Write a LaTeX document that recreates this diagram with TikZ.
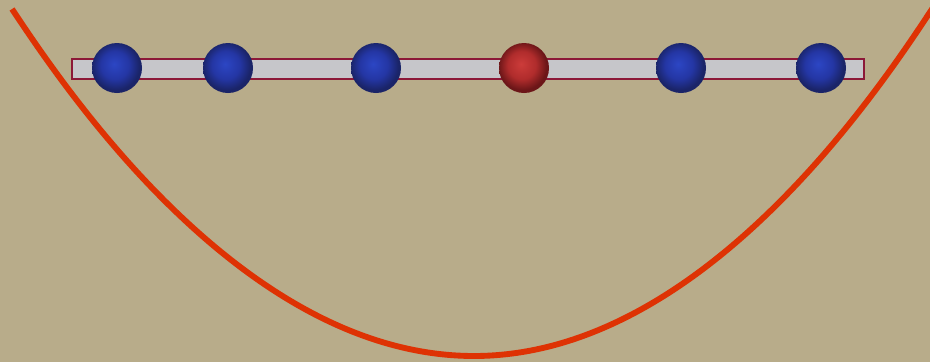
\documentclass[tikz,border=0pt]{standalone}
\usetikzlibrary{positioning}
\definecolor{bgtan}{RGB}{184,172,138}
\definecolor{potred}{RGB}{222,50,4}
\definecolor{railgray}{RGB}{198,198,202}
\definecolor{raildraw}{RGB}{140,24,56}
\definecolor{bluehi}{RGB}{44,70,196}
\definecolor{bluemid}{RGB}{36,54,164}
\definecolor{blueedge}{RGB}{26,36,104}
\definecolor{redhi}{RGB}{204,60,58}
\definecolor{redmid}{RGB}{176,44,44}
\definecolor{rededge}{RGB}{108,22,24}
\pgfdeclareradialshading{blueball}{\pgfpoint{-3bp}{4bp}}{color(0bp)=(bluehi); color(14bp)=(bluemid); color(24bp)=(blueedge); color(50bp)=(blueedge)}
\pgfdeclareradialshading{redball}{\pgfpoint{-3bp}{4bp}}{color(0bp)=(redhi); color(14bp)=(redmid); color(24bp)=(rededge); color(50bp)=(rededge)}
\tikzset{
  bead/.style={circle,minimum size=1.5cm,inner sep=0pt},
  bluebead/.style={bead,shading=blueball},
  redbead/.style={bead,shading=redball},
  rail/.style={draw=raildraw,fill=railgray,line width=1.2pt,minimum width=23.76cm,minimum height=0.6cm,inner sep=0pt},
  potl/.style={draw=potred,line width=5pt}
}
\begin{document}
\begin{tikzpicture}[x=0.03cm,y=-0.03cm]
  \fill[bgtan] (0,0) rectangle (930,362);
  \useasboundingbox (0,0) rectangle (930,362);

  % potential well
  \coordinate (lend) at (12,9);
  \coordinate (bottom) at (474,356);
  \coordinate (rend) at (934,6);
  \draw[potl] (lend) parabola bend (bottom) (rend);

  % rail with beads
  \node[rail] (rl) at (468,69) {};
  \node[bluebead] (b1) at (117,68) {};
  \node[bluebead] (b2) at (228,68) {};
  \node[bluebead] (b3) at (376,68) {};
  \node[redbead]  (r1) at (524,68) {};
  \node[bluebead] (b4) at (681,68) {};
  \node[bluebead] (b5) at (821,68) {};
\end{tikzpicture}
\end{document}
